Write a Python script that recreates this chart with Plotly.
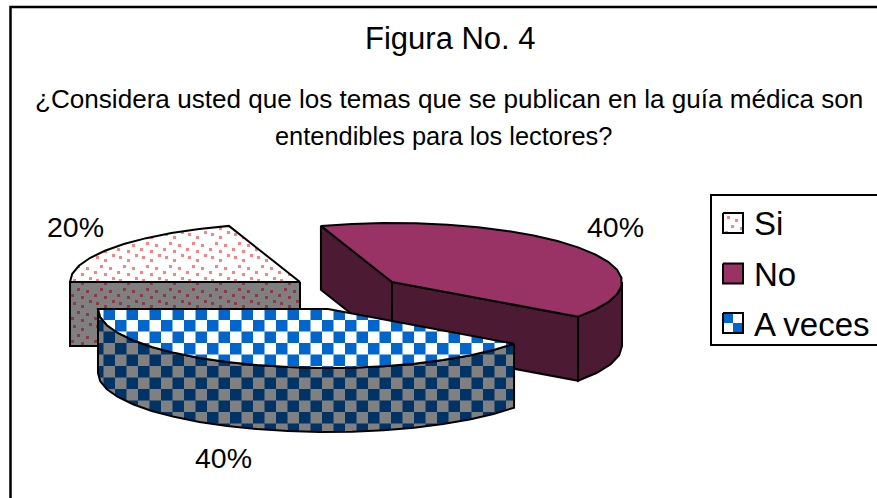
import numpy as np
import plotly.graph_objects as go

# ---- data ----
categories = ["Si", "No", "A veces"]
values = [20, 40, 40]
labels = ["20%", "40%", "40%"]
title_text = "Figura No. 4"
subtitle_lines = ["¿Considera usted que los temas que se publican en la guía médica son",
                  "entendibles para los lectores?"]

# ---- geometry / style ----
W, H = 877, 498
A, B, DEPTH = 230, 59, 64
START = 180
APEX = [(300, 282), (392, 282), (328, 309)]
CUTS = [("start",), ("start", "end"), ()]
FONT = "Liberation Sans"
CELL = 11.5
GRID0 = (103.5, 308.5)
DOT_TILE = 23
DOTS = [(4, 3), (12, 6), (20, 1), (8, 12), (17, 14), (2, 18), (12, 20)]
LINE = dict(color="black", width=2)


def pt(apex, deg):
    r = np.radians(deg)
    return (apex[0] + A * np.cos(r), apex[1] - B * np.sin(r))


def arc(apex, a0, a1):
    n = max(2, int(abs(a1 - a0) / 8) + 1)
    return [pt(apex, d) for d in np.linspace(a0, a1, n)]


def down(points):
    return [(x, y + DEPTH) for x, y in points]


def clip(poly, x0, y0, x1, y1):
    """Clip a polygon against a rectangular window."""
    def run(p, inside, cross):
        out = []
        for i in range(len(p)):
            c, n = p[i], p[(i + 1) % len(p)]
            if inside(c):
                out.append(c)
            if inside(c) != inside(n):
                out.append(cross(c, n))
        return out

    def xcut(v):
        return lambda a, b: (v, a[1] + (b[1] - a[1]) * (v - a[0]) / (b[0] - a[0]))

    def ycut(v):
        return lambda a, b: (a[0] + (b[0] - a[0]) * (v - a[1]) / (b[1] - a[1]), v)

    for inside, cross in [(lambda q: q[0] >= x0, xcut(x0)), (lambda q: q[0] <= x1, xcut(x1)),
                          (lambda q: q[1] >= y0, ycut(y0)), (lambda q: q[1] <= y1, ycut(y1))]:
        if not poly:
            return []
        poly = run(poly, inside, cross)
    return poly


def fill(fig, polys, color):
    xs, ys = [], []
    for p in polys:
        if len(p) < 3:
            continue
        xs += [q[0] for q in p] + [p[0][0], None]
        ys += [q[1] for q in p] + [p[0][1], None]
    fig.add_trace(go.Scatter(x=xs, y=ys, mode="lines", fill="toself", fillcolor=color,
                             line=dict(width=0), hoverinfo="skip", showlegend=False))


def outline(fig, p, closed=True):
    pts = list(p) + ([p[0]] if closed else [])
    fig.add_trace(go.Scatter(x=[q[0] for q in pts], y=[q[1] for q in pts], mode="lines",
                             line=LINE, hoverinfo="skip", showlegend=False))


def bbox(p):
    xs = [q[0] for q in p]
    ys = [q[1] for q in p]
    return min(xs), min(ys), max(xs), max(ys)


def checker(fig, poly, col1, col2, org=GRID0, cell=CELL):
    fill(fig, [poly], col2)
    x0, y0, x1, y1 = bbox(poly)
    i0 = int(np.floor((x0 - org[0]) / cell))
    i1 = int(np.ceil((x1 - org[0]) / cell))
    j0 = int(np.floor((y0 - org[1]) / cell))
    j1 = int(np.ceil((y1 - org[1]) / cell))
    cells = []
    for i in range(i0, i1):
        for j in range(j0, j1):
            if (i + j) % 2 == 0:
                cells.append(clip(poly, org[0] + i * cell, org[1] + j * cell,
                                  org[0] + (i + 1) * cell, org[1] + (j + 1) * cell))
    fill(fig, cells, col1)


def dotted(fig, poly, dot, bg, org=(0, 0), tile=DOT_TILE):
    fill(fig, [poly], bg)
    x0, y0, x1, y1 = bbox(poly)
    out = []
    for i in range(int((x0 - org[0]) // tile), int((x1 - org[0]) // tile) + 1):
        for j in range(int((y0 - org[1]) // tile), int((y1 - org[1]) // tile) + 1):
            for dx, dy in DOTS:
                X = org[0] + i * tile + dx
                Y = org[1] + j * tile + dy
                out.append(clip(poly, X, Y, X + 3, Y + 3))
    fill(fig, out, dot)


def solid(fig, poly, color):
    fill(fig, [poly], color)


def side_dotted(f, p):
    dotted(f, p, "#8B3A4A", "#808080")


def side_check(f, p):
    checker(f, p, "#003366", "#808080")


def top_dotted(f, p):
    dotted(f, p, "#FF8080", "#FFFFFF")


def top_check(f, p):
    checker(f, p, "#0066CC", "#FFFFFF")


SIDE = [side_dotted, lambda f, p: solid(f, p, "#4D1A33"), side_check]
TOP = [top_dotted, lambda f, p: solid(f, p, "#993366"), top_check]

fig = go.Figure()

total = sum(values)
a = START
for k, v in enumerate(values):
    sweep = 360 * v / total
    a0, a1 = a, a - sweep
    a = a1
    apex = APEX[k]
    for which in CUTS[k]:
        edge = pt(apex, a0 if which == "start" else a1)
        face = [apex, edge] + down([edge, apex])
        SIDE[k](fig, face)
        outline(fig, face)
    lo, hi = max(a1, -180), min(a0, 0)
    if hi > lo:
        rim = arc(apex, hi, lo)
        wall = rim + down(rim)[::-1]
        SIDE[k](fig, wall)
        outline(fig, wall)
    top = [apex] + arc(apex, a0, a1)
    TOP[k](fig, top)
    outline(fig, top)

shapes = [
    dict(type="rect", x0=10.5, y0=7, x1=W + 30, y1=H + 30, line=dict(color="black", width=2.5), layer="above"),
    dict(type="rect", x0=711, y0=195, x1=W + 30, y1=345, line=dict(color="black", width=2), layer="above"),
]

SW_Y = [213, 263.5, 313]
for k, name in enumerate(categories):
    y0 = SW_Y[k]
    sq = [(723, y0), (743, y0), (743, y0 + 20), (723, y0 + 20)]
    if k == 0:
        dotted(fig, sq, "#FF8080", "#FFFFFF", org=(723, y0), tile=20)
    elif k == 1:
        solid(fig, sq, "#993366")
    else:
        checker(fig, sq, "#0066CC", "#FFFFFF", org=(723, y0), cell=10)
    outline(fig, sq)

ann = []


def text(x, y, s, size, anchor="center"):
    ann.append(dict(x=x, y=y, text=s, showarrow=False, xanchor=anchor, yanchor="middle",
                    font=dict(family=FONT, size=size, color="black")))


text(450, 38, title_text, 31)
text(448.5, 99, subtitle_lines[0], 26.1)
text(443.5, 136, subtitle_lines[1], 25.4)
for (x, y), s in zip([(75, 227), (615, 227), (223, 458)], labels):
    text(x, y, s, 28.5)
for y, name in zip([223, 274, 324], categories):
    text(752, y, name, 33, anchor="left")

fig.update_layout(
    width=W, height=H, margin=dict(l=0, r=0, t=0, b=0), showlegend=False,
    paper_bgcolor="white", plot_bgcolor="white", shapes=shapes, annotations=ann,
    xaxis=dict(range=[0, W], visible=False, fixedrange=True),
    yaxis=dict(range=[H, 0], visible=False, fixedrange=True),
)
fig.write_html("out.html", config=dict(displayModeBar=False),
               post_script="document.body.style.margin='0';document.documentElement.style.overflow='hidden';")
